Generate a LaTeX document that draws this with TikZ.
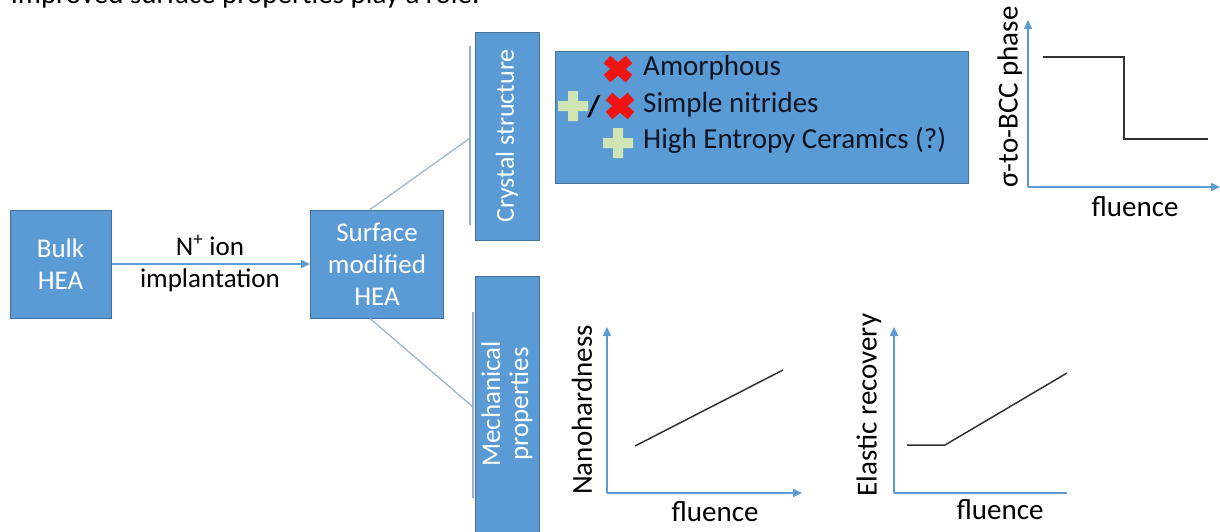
\documentclass[tikz,border=0pt]{standalone}
\usepackage{fontspec}
\setmainfont{Carlito}
\usetikzlibrary{arrows.meta}
\definecolor{boxblue}{RGB}{91,155,213}
\definecolor{boxline}{RGB}{65,113,156}
\definecolor{connc}{RGB}{150,178,206}
\definecolor{axisc}{RGB}{91,155,213}
\definecolor{plotc}{RGB}{50,50,50}
\definecolor{crossred}{RGB}{238,20,20}
\definecolor{plusgreen}{RGB}{208,228,180}
\definecolor{textdark}{RGB}{15,20,35}
\tikzset{
  fs/.style={font=\fontsize{#1}{32}\selectfont},
  bluebox/.style={draw=boxline, line width=1pt, fill=boxblue, text=white, align=center, inner sep=0pt, fs=27},
  conn/.style={draw=connc, line width=1.2pt},
  axisline/.style={draw=axisc, line width=1.5pt},
  axisarrow/.style={axisline, -{Triangle[length=9pt,width=8pt]}},
  curve/.style={draw=plotc, line width=1.5pt},
  axlabel/.style={fs=29, text=black, inner sep=0pt},
  listtext/.style={fs=29, text=textdark, inner sep=0pt, anchor=base west},
  pics/redx/.style={code={
    \draw[crossred, line width=10pt] (-11,-9.5) -- (11,9.5) (-11,9.5) -- (11,-9.5);}},
  pics/gplus/.style={code={
    \fill[plusgreen] (-15,-5) rectangle (15,5) (-5,-15) rectangle (5,15);}}
}
\begin{document}
\begin{tikzpicture}[x=1pt,y=-1pt]
\useasboundingbox (0,0) rectangle (1220,531);
\clip (0,0) rectangle (1220,531);

% cut-off line of text at the top
\node[fs=29, text=black, inner sep=0pt, anchor=base west] (toptext) at (11,3.5) {improved surface properties play a role.};

% main boxes
\node[bluebox, minimum width=101pt, minimum height=108pt] (bulk) at (60.5,264) {Bulk\\HEA};
\node[bluebox, minimum width=133pt, minimum height=108pt] (surf) at (377,264) {Surface\\modified\\HEA};
\node[bluebox, minimum width=64pt, minimum height=208pt] (crys) at (507,136) {};
\node[fs=26, text=white, rotate=90, inner sep=0pt] (crystxt) at (507,136) {Crystal structure};
\node[bluebox, minimum width=64pt, minimum height=256pt] (mech) at (507,404) {};
\node[text=white, rotate=90, align=center, inner sep=0pt, font=\fontsize{27}{28}\selectfont] (mechtxt) at (507,404) {Mechanical\\properties};
\node[draw=boxline, line width=1pt, fill=boxblue, minimum width=413pt, minimum height=132pt, inner sep=0pt] (list) at (761.5,117) {};

% arrow with label
\draw[draw=axisc, line width=1.5pt, -{Triangle[length=9pt,width=8pt]}] (bulk) -- (surf);
\node[fs=27, inner sep=0pt, anchor=base] (lab1) at (210,255) {N\textsuperscript{+} ion};
\node[fs=27, inner sep=0pt, anchor=base] (lab2) at (210,287) {implantation};

% brackets and branches
\coordinate (cbt) at (470,46);
\coordinate (cbb) at (470,225);
\coordinate (cbm) at (470,138);
\draw[conn] (cbt) -- (cbb);
\draw[conn] ([xshift=-7pt]surf.north) -- (cbm);
\coordinate (mbt) at (473,312);
\coordinate (mbb) at (473,498);
\coordinate (mbm) at (473,407);
\draw[conn] (mbt) -- (mbb);
\draw[conn] ([xshift=-7pt]surf.south) -- (mbm);

% list items
\pic at (618,69) {redx};
\node[listtext] (t1) at (643,75) {Amorphous};
\pic at (573,106) {gplus};
\node[fs=30, inner sep=0pt, text=black] (slash) at (594,107) {\textbf{/}};
\pic at (620,106) {redx};
\node[listtext] (t2) at (643,112) {Simple nitrides};
\pic at (618,143) {gplus};
\node[listtext] (t3) at (643,148) {High Entropy Ceramics (?)};

% plot 1: sigma-to-BCC
\coordinate (o1) at (1028,187);
\coordinate (y1) at (1028,20);
\coordinate (x1) at (1220,187);
\draw[axisarrow] (o1) -- (y1);
\draw[axisarrow] (o1) -- (x1);
\coordinate (p1a) at (1043,57);
\coordinate (p1b) at (1124,139);
\coordinate (p1c) at (1208,139);
\draw[curve] (p1a) -| (p1b) -- (p1c);
\node[axlabel, rotate=90] (yl1) at (1010,97) {σ-to-BCC phase};
\node[axlabel] (xl1) at (1135,207) {fluence};

% plot 2: nanohardness
\coordinate (o2) at (607,493);
\coordinate (y2) at (607,327);
\coordinate (x2) at (802,493);
\draw[axisarrow] (o2) -- (y2);
\draw[axisarrow] (o2) -- (x2);
\coordinate (p2a) at (635,446);
\coordinate (p2b) at (783,370);
\draw[curve] (p2a) -- (p2b);
\node[axlabel, rotate=90] (yl2) at (582,410) {Nanohardness};
\node[axlabel] (xl2) at (715,512) {fluence};

% plot 3: elastic recovery
\coordinate (o3) at (894,493);
\coordinate (y3) at (894,327);
\coordinate (x3) at (1067,493);
\draw[axisarrow] (o3) -- (y3);
\draw[axisline] (o3) -- (x3);
\coordinate (p3a) at (907,445);
\coordinate (p3b) at (945,445);
\coordinate (p3c) at (1067,373);
\draw[curve] (p3a) -- (p3b) -- (p3c);
\node[axlabel, rotate=90] (yl3) at (869,405) {Elastic recovery};
\node[axlabel] (xl3) at (1000,510) {fluence};
\end{tikzpicture}
\end{document}
